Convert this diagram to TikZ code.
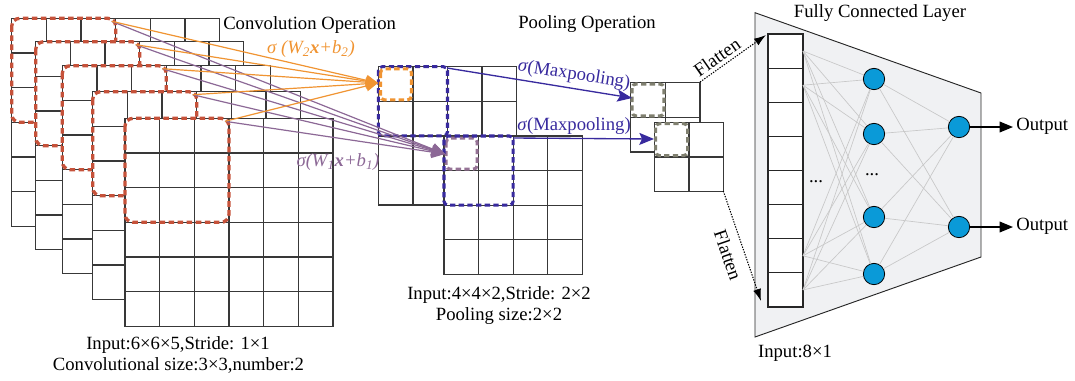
\documentclass[tikz,border=0pt]{standalone}
\usepackage{fontspec}
\setmainfont{Liberation Serif}
\usetikzlibrary{arrows.meta}
\definecolor{convred}{RGB}{198,82,58}
\definecolor{orangec}{RGB}{240,148,50}
\definecolor{purplec}{RGB}{140,104,150}
\definecolor{bluec}{RGB}{56,42,158}
\definecolor{greyd}{RGB}{128,128,112}
\definecolor{fcgray}{RGB}{240,241,243}
\definecolor{neuronc}{RGB}{10,154,216}
\definecolor{pinkc}{RGB}{150,115,150}
\definecolor{fcline}{RGB}{200,200,200}
\tikzset{
  gridline/.style={draw=black!78, line width=1pt, line cap=rect},
  reddash/.style={draw=convred, line width=2.5pt, dash pattern=on 4.2pt off 2.6pt, rounded corners=6pt},
  orangedash/.style={draw=orangec, line width=2.3pt, dash pattern=on 4pt off 2.5pt, rounded corners=3pt},
  bluedash/.style={draw=bluec, line width=2.3pt, dash pattern=on 4pt off 2.5pt, rounded corners=3pt},
  pinkdash/.style={draw=pinkc, line width=2.3pt, dash pattern=on 4pt off 2.5pt, rounded corners=3pt},
  greydash/.style={draw=greyd, line width=2.3pt, dash pattern=on 4pt off 2.5pt, rounded corners=3pt},
  lbl/.style={font=\fontsize{14}{16}\selectfont, inner sep=0pt},
  orangearrow/.style={draw=orangec, line width=0.9pt, -{Triangle[length=9pt,width=8pt]}},
  purplearrow/.style={draw=purplec, line width=0.9pt, -{Triangle[length=10pt,width=9pt]}},
  bluearrow/.style={draw=bluec, line width=1pt, -{Stealth[length=11pt,width=9pt,inset=2pt]}},
  flat/.style={draw=black, line width=0.8pt, dash pattern=on 1pt off 1pt, -{Latex[length=9pt,width=6pt]}},
  incell/.style={draw=black!85, fill=white, line width=0.8pt, minimum width=26.25pt, minimum height=25.59pt, inner sep=0pt, outer sep=0pt},
  neuron/.style={circle, draw=black, line width=0.6pt, fill=neuronc, minimum size=16pt, inner sep=0pt},
  fcl/.style={draw=fcline, line width=0.5pt},
}
\newcommand{\cnngrid}[4]{%
  \fill[white] (#1,#2) rectangle ++({#3*#4},{#3*#4});
  \foreach \k in {0,...,#3}{
    \draw[gridline] ({#1+\k*#4},#2) -- ++(0,{#3*#4});
    \draw[gridline] (#1,{#2+\k*#4}) -- ++({#3*#4},0);
  }}
\begin{document}
\begin{tikzpicture}[x=0.75pt,y=-0.75pt]
\useasboundingbox (0,0) rectangle (1075,380);

% ---------- convolution stack ----------
\cnngrid{11.7}{18.3}{6}{34.67}
\draw[reddash] (11.7,18.3) rectangle ++(104,104);
\cnngrid{35.7}{41.7}{6}{34.67}
\draw[reddash] (35.7,41.7) rectangle ++(104,104);
\cnngrid{62.3}{65.7}{6}{34.67}
\draw[reddash] (62.3,65.7) rectangle ++(104,104);
\cnngrid{92.7}{91.7}{6}{34.67}
\draw[reddash] (92.7,91.7) rectangle ++(104,104);
\cnngrid{125}{118.3}{6}{34.67}
\draw[reddash] (125,118.3) rectangle ++(104,104);

\coordinate (s1) at (111.7,21.3);
\coordinate (s2) at (135.7,44.7);
\coordinate (s3) at (162.3,68.7);
\coordinate (s4) at (192.7,94.7);
\coordinate (s5) at (225,121.3);

% ---------- pooling grids ----------
\cnngrid{378.3}{66.7}{4}{34.6}
\draw[bluedash] (378.3,66.7) rectangle ++(69.2,69.2);
\draw[orangedash] (380.5,68.9) rectangle ++(31,31);
\cnngrid{444}{136}{4}{34.6}
\draw[pinkdash] (446.2,138.2) rectangle ++(31,31);
\draw[bluedash] (444,136) rectangle ++(69.2,69.2);

\coordinate (ot) at (378,83);
\coordinate (pt) at (445,154);

\foreach \s in {s1,s2,s3,s4,s5} \draw[purplearrow] (\s) -- (pt);
\foreach \s in {s1,s2,s3,s4,s5} \draw[orangearrow] (\s) -- (ot);

\node[lbl, anchor=west] (convop) at (223,25) {Convolution Operation};
\node[lbl, text=orangec] (w2) at (311,49) {\textit{σ (W\textsubscript{2}\textbf{x}+b\textsubscript{2})}};
\node[lbl, text=purplec] (w1) at (338,162) {\textit{σ(W\textsubscript{1}\textbf{x}+b\textsubscript{1})}};

% ---------- small grids ----------
\cnngrid{630.7}{82.7}{2}{34.65}
\draw[greydash] (632,84) rectangle ++(32,32);
\cnngrid{654.3}{122.3}{2}{34.65}
\draw[greydash] (655.6,123.6) rectangle ++(32,32);

\coordinate (pa) at (447,68);
\coordinate (pae) at (632,98);
\coordinate (pb) at (513,138);
\coordinate (pbe) at (654,139);
\draw[bluearrow] (pa) -- (pae);
\draw[bluearrow] (pb) -- (pbe);
\node[lbl, text=bluec, rotate=-9] (mp1) at (574,75) {\textit{σ}(Maxpooling)};
\node[lbl, text=bluec] (mp2) at (574,126) {\textit{σ}(Maxpooling)};
\node[lbl] (poolop) at (587,24) {Pooling Operation};

% ---------- fully connected ----------
\draw[fill=fcgray, draw=black!85, line width=0.7pt] (755,12.7) -- (981,93) -- (981,257) -- (755,337) -- cycle;
\node[lbl] (fcl) at (880,13) {Fully Connected Layer};

\foreach \i in {1,...,8}
  \node[incell] (c\i) at (785.5,{34+17.06+(\i-1)*34.12}) {};

\node[neuron] (h1) at (874,79) {};
\node[neuron] (h2) at (874,134) {};
\node[neuron] (h3) at (874,217) {};
\node[neuron] (h4) at (874,274) {};
\node[neuron] (o1) at (959,127) {};
\node[neuron] (o2) at (959,227) {};

\foreach \a in {1,2,7,8}
  \foreach \b in {1,...,4}
    \draw[fcl] (c\a.east) -- (h\b);
\foreach \b in {1,...,4}
  \foreach \k in {1,2}
    \draw[fcl] (h\b) -- (o\k);

\node[lbl] (dots1) at (816,182) {...};
\node[lbl] (dots2) at (872,175) {...};

\coordinate (oe1) at (1013,127);
\coordinate (oe2) at (1013,227);
\draw[line width=1pt, -{Triangle[length=10pt,width=8pt]}] (o1) -- (oe1);
\draw[line width=1pt, -{Triangle[length=10pt,width=8pt]}] (o2) -- (oe2);
\node[lbl, anchor=west] (out1) at (1016,126) {Output};
\node[lbl, anchor=west] (out2) at (1016,226) {Output};

% ---------- flatten ----------
\coordinate (fa1) at (700,82);
\coordinate (fe1) at (766,35);
\coordinate (fa2) at (723.3,191);
\coordinate (fe2) at (761,301);
\draw[flat] (fa1) -- (fe1);
\draw[flat] (fa2) -- (fe2);
\node[lbl, rotate=35] (fl1) at (717,57) {Flatten};
\node[lbl, rotate=-71] (fl2) at (728,255) {Flatten};

% ---------- bottom labels ----------
\node[lbl] (cin) at (178,345) {Input:6×6×5,Stride: 1×1};
\node[lbl] (csz) at (178.5,365) {Convolutional size:3×3,number:2};
\node[lbl] (pin) at (499,295) {Input:4×4×2,Stride: 2×2};
\node[lbl] (psz) at (499,316) {Pooling size:2×2};
\node[lbl] (fin) at (795,353) {Input:8×1};
\end{tikzpicture}
\end{document}
